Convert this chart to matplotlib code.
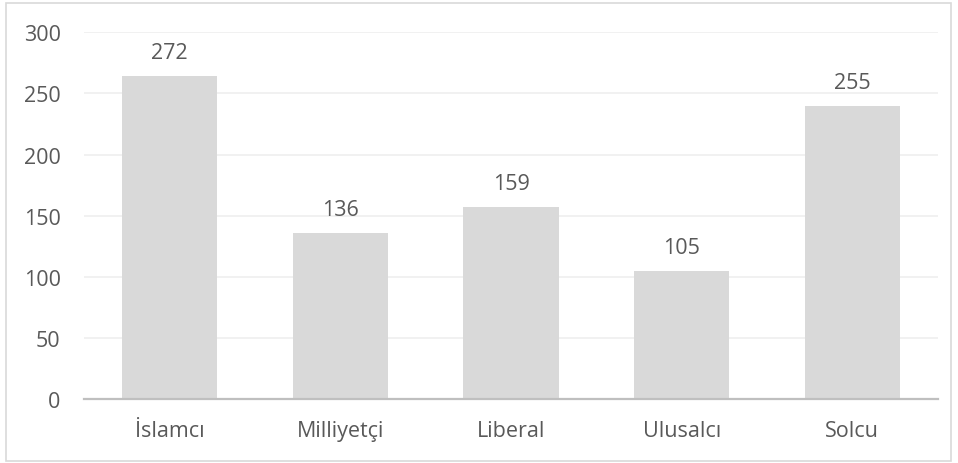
import matplotlib
matplotlib.use("Agg")
import matplotlib.pyplot as plt
from matplotlib.patches import Rectangle

categories = ["İslamcı", "Milliyetçi", "Liberal", "Ulusalcı", "Solcu"]
bar_values = [264, 136, 157, 105, 240]
value_labels = ["272", "136", "159", "105", "255"]
y_ticks = [0, 50, 100, 150, 200, 250, 300]

plt.rcParams['font.family'] = ['Open Sans', 'DejaVu Sans']
text_color = "#595959"
fs = 15.5

fig = plt.figure(figsize=(9.58, 4.64), dpi=100)
fig.patches.append(Rectangle((6/958, 2/464), 945/958, 458/464, transform=fig.transFigure,
                             fill=False, edgecolor="#d9d9d9", linewidth=1.2))
ax = fig.add_axes([84.3/958, (464-400)/464, (937.7-84.3)/958, (400-33.3)/464])

x = list(range(len(categories)))
ax.bar(x, bar_values, width=0.557, color="#d9d9d9", zorder=2)
for xi, v, lab in zip(x, bar_values, value_labels):
    ax.annotate(lab, (xi, v), xytext=(0, 17), textcoords="offset points",
                ha="center", va="center", fontsize=fs, color=text_color)

ax.set_xlim(-0.5, len(categories) - 0.5)
ax.set_ylim(0, 300)
ax.set_yticks(y_ticks)
ax.set_yticklabels([str(t) for t in y_ticks])
ax.set_xticks(x)
ax.set_xticklabels(categories)
ax.tick_params(axis="both", length=0, labelsize=fs, labelcolor=text_color)
ax.tick_params(axis="y", pad=17)
ax.tick_params(axis="x", pad=15)
ax.grid(axis="y", color="#f0f0f0", linewidth=1.3, zorder=0)
ax.set_axisbelow(True)
for s in ["top", "right", "left"]:
    ax.spines[s].set_visible(False)
ax.spines["bottom"].set_color("#bfbfbf")
ax.spines["bottom"].set_linewidth(1.6)
ax.spines["bottom"].set_zorder(3)

fig.savefig("out.png", dpi=100)
